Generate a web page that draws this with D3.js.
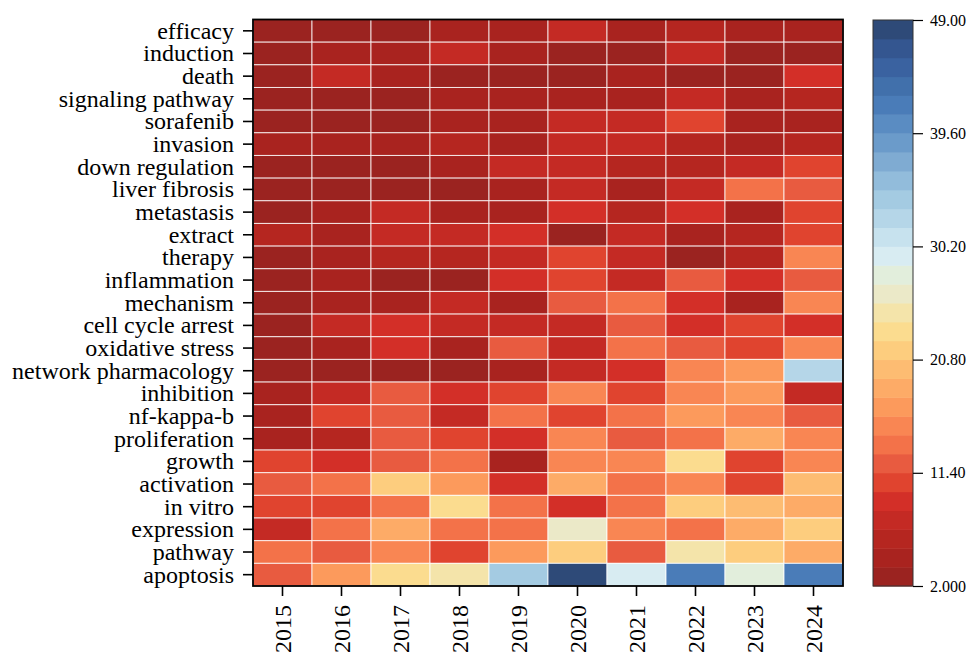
<!DOCTYPE html>
<html>
<head>
<meta charset="utf-8">
<script src="https://cdn.jsdelivr.net/npm/d3@7"></script>
<style>
html,body{margin:0;padding:0;background:#fff;}
svg{display:block;}
svg text{font-family:"Liberation Serif","Times New Roman","DejaVu Serif",serif !important;fill:#000;}
</style>
</head>
<body>
<svg id="chart" width="969" height="652"></svg>
<script>
const years = ["2015","2016","2017","2018","2019","2020","2021","2022","2023","2024"];
const keywords = ["efficacy","induction","death","signaling pathway","sorafenib","invasion",
  "down regulation","liver fibrosis","metastasis","extract","therapy","inflammation",
  "mechanism","cell cycle arrest","oxidative stress","network pharmacology","inhibition",
  "nf-kappa-b","proliferation","growth","activation","in vitro","expression","pathway","apoptosis"];
const values = [
  [3,2,3,5,5,8,5,6,5,5],
  [3,5,4,8,5,3,2,8,3,3],
  [3,8,5,2,3,3,5,2,3,9],
  [3,3,2,5,4,5,5,7,5,6],
  [2,3,3,5,5,8,7,11,5,4],
  [5,4,5,6,5,7,8,6,5,6],
  [3,2,3,5,8,7,6,6,8,10],
  [3,3,2,2,5,8,5,7,14,12],
  [3,5,8,5,4,9,6,9,5,11],
  [6,5,7,8,9,2,8,4,6,10],
  [3,5,6,6,8,11,7,3,6,15],
  [3,4,3,2,9,10,8,12,9,12],
  [3,5,4,7,5,12,14,9,4,16],
  [2,7,9,8,7,8,12,9,11,9],
  [3,5,9,5,12,7,13,12,10,15],
  [3,2,3,2,4,7,9,16,17,33],
  [5,8,12,9,10,15,11,16,17,8],
  [4,10,12,7,13,11,14,17,16,12],
  [5,6,12,11,9,16,12,14,19,15],
  [10,9,12,13,5,16,15,23,11,16],
  [12,14,22,17,9,18,13,16,11,20],
  [11,10,14,23,13,9,14,21,20,19],
  [8,13,19,14,13,27,15,14,18,22],
  [14,12,16,10,17,21,12,25,22,19],
  [12,17,23,24,34,49,30,42,28,42]
];
const colorDomain = [2, 49];
const colorbarTickLabels = ["2.000","11.40","20.80","30.20","39.60","49.00"];

const palette = ["#9b2320","#a9231f","#b52620","#c42a24","#d32f28","#e0442f","#e85b40","#f37249",
  "#f98653","#fc9a5c","#fdab67","#fdbc72","#fdcd7e","#fbdc8f","#f4e4aa","#ebe9c8","#e2eedc",
  "#d8ecf2","#c7e2ee","#b5d6e8","#a4cbe2","#92bcdb","#7fabd2","#6b9bca","#5a8cc2","#4a7cb8",
  "#4170ab","#3a62a0","#345690","#2e4a78"];

const FONT = "'Liberation Serif','Times New Roman','DejaVu Serif',serif";
const svg = d3.select("#chart");
const plot = {left:253, right:843, top:19.5, bottom:586};

const x = d3.scaleBand().domain(years).range([plot.left, plot.right]).padding(0);
const y = d3.scaleBand().domain(keywords).range([plot.top, plot.bottom]).padding(0);
const color = d3.scaleQuantize().domain(colorDomain).range(palette);

const cells = [];
keywords.forEach((k,i)=>years.forEach((yr,j)=>cells.push({k, yr, v: values[i][j]})));

svg.append("g").selectAll("rect").data(cells).join("rect")
  .attr("x", d=>x(d.yr)).attr("y", d=>y(d.k))
  .attr("width", x.bandwidth()).attr("height", y.bandwidth())
  .attr("fill", d=>color(d.v))
  .attr("stroke", "rgba(255,255,255,0.8)").attr("stroke-width", 1);

// frame
svg.append("rect").attr("x", plot.left).attr("y", plot.top)
  .attr("width", plot.right-plot.left).attr("height", plot.bottom-plot.top)
  .attr("fill","none").attr("stroke","#000").attr("stroke-width",1.8);

// y axis
const yAxis = svg.append("g").attr("transform", `translate(${plot.left},0)`)
  .call(d3.axisLeft(y).tickSize(10).tickPadding(9));
yAxis.attr("font-family", null).attr("font-size", null);
yAxis.select(".domain").remove();
yAxis.selectAll(".tick line").attr("stroke","#000").attr("stroke-width",1.6);
yAxis.selectAll(".tick text").style("font-size","24px").style("font-family", FONT)
  .attr("dy","0.33em");

// x axis
const xAxis = svg.append("g").attr("transform", `translate(0,${plot.bottom})`)
  .call(d3.axisBottom(x).tickSize(10).tickPadding(9));
xAxis.attr("font-family", null).attr("font-size", null);
xAxis.select(".domain").remove();
xAxis.selectAll(".tick line").attr("stroke","#000").attr("stroke-width",1.6);
xAxis.selectAll(".tick text").style("font-size","24px").style("font-family", FONT)
  .attr("transform","rotate(-90)").attr("text-anchor","end")
  .attr("x",-19).attr("y",0).attr("dy","0.35em");

// colorbar
const cb = {x:873, w:40, top:20, bottom:586};
const cbScale = d3.scaleLinear().domain(colorDomain).range([cb.bottom, cb.top]);
const n = palette.length;
const step = (colorDomain[1]-colorDomain[0])/n;
const bands = palette.map((c,i)=>({c, lo: colorDomain[0]+i*step, hi: colorDomain[0]+(i+1)*step}));
svg.append("g").selectAll("rect").data(bands).join("rect")
  .attr("x", cb.x).attr("y", d=>cbScale(d.hi))
  .attr("width", cb.w).attr("height", d=>cbScale(d.lo)-cbScale(d.hi)+0.5)
  .attr("fill", d=>d.c);
svg.append("rect").attr("x", cb.x).attr("y", cb.top).attr("width", cb.w)
  .attr("height", cb.bottom-cb.top).attr("fill","none").attr("stroke","#333").attr("stroke-width",1);

const tickVals = d3.range(6).map(i=>colorDomain[0]+i*(colorDomain[1]-colorDomain[0])/5);
const cbAxis = svg.append("g").attr("transform", `translate(${cb.x+cb.w},0)`)
  .call(d3.axisRight(cbScale).tickValues(tickVals).tickSize(10).tickPadding(7)
    .tickFormat((d,i)=>colorbarTickLabels[i]));
cbAxis.attr("font-family", null).attr("font-size", null);
cbAxis.select(".domain").remove();
cbAxis.selectAll(".tick line").attr("stroke","#000").attr("stroke-width",1.2);
cbAxis.selectAll(".tick text").style("font-size","16px").style("font-family", FONT);
</script>
</body>
</html>
